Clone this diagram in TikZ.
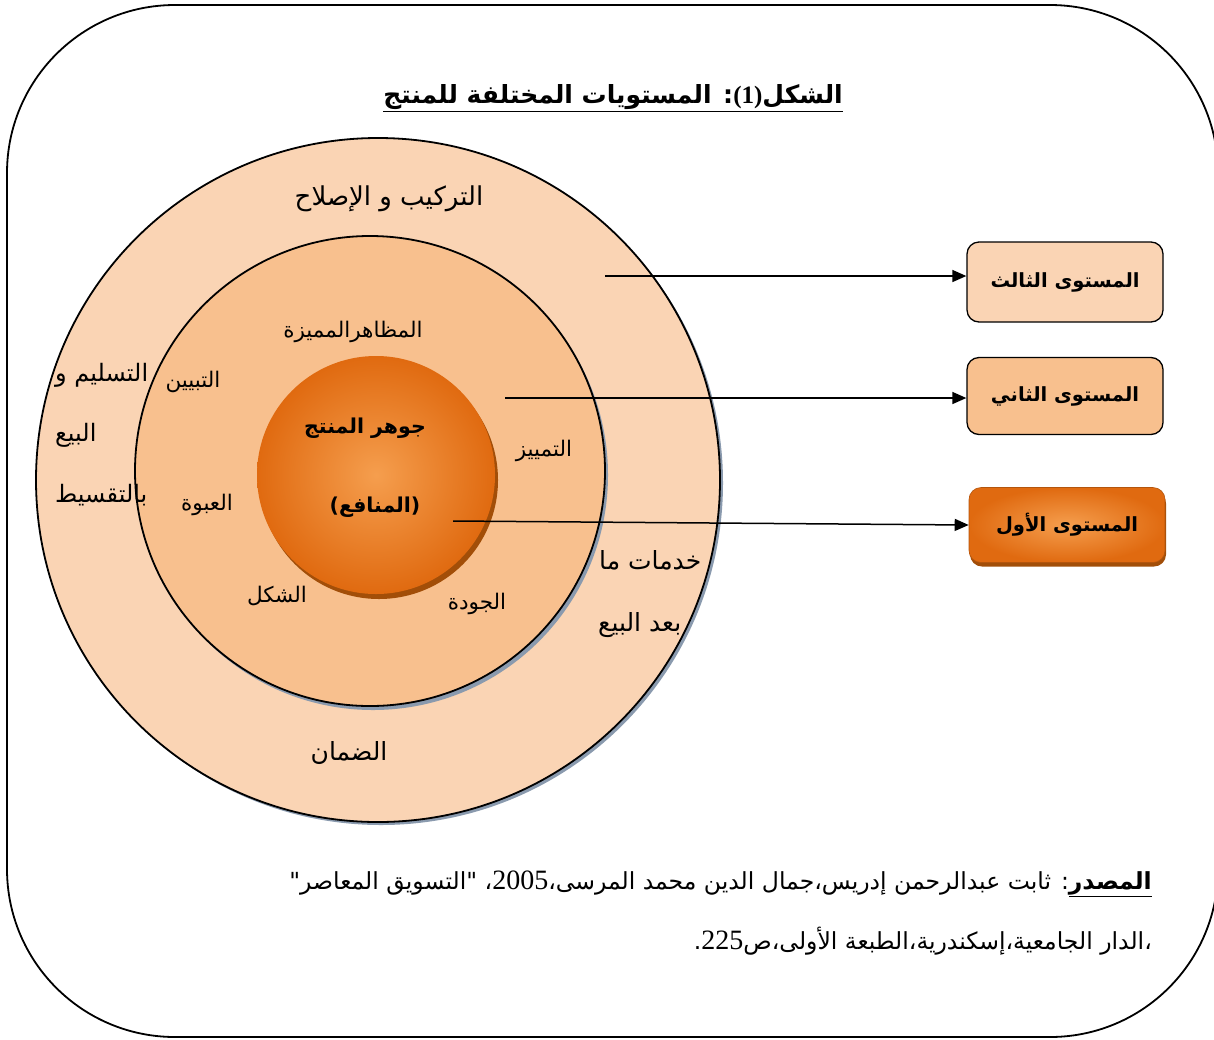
\documentclass[tikz,border=0pt]{standalone}
\usepackage{fontspec}
\usetikzlibrary{shadows,arrows.meta}
\TeXXeTstate=1
\newfontfamily\arabicfont[Script=Arabic]{DejaVu Sans}
\newfontfamily\latinserif{Liberation Serif}
\newcommand{\arline}[1]{\beginR #1\endR}
\newcommand{\lat}[1]{\beginL{\latinserif #1}\endL}
\definecolor{ringthree}{HTML}{FAD4B4}
\definecolor{ringtwo}{HTML}{F8C08E}
\definecolor{coreinner}{HTML}{F59E4E}
\definecolor{coreouter}{HTML}{E06A10}
\definecolor{shadowblue}{HTML}{8A9AAE}
\definecolor{coreshadow}{HTML}{A24E08}
\begin{document}
\begin{tikzpicture}[x=1pt,y=-1pt,
  outerlbl/.style={font=\arabicfont\fontsize{25}{30}\selectfont, inner sep=0pt},
  sidelbl/.style={font=\arabicfont\fontsize{24}{30}\selectfont, inner sep=0pt, anchor=west},
  innerlbl/.style={font=\arabicfont\fontsize{21.5}{26}\selectfont, inner sep=0pt},
  boldlbl/.style={font=\arabicfont\bfseries\fontsize{20.5}{24}\selectfont, inner sep=0pt},
  srclbl/.style={font=\arabicfont\fontsize{23.5}{28}\selectfont, inner sep=0pt, anchor=base east},
  levelbox/.style={rectangle, rounded corners=12pt, minimum width=196pt, draw=black, line width=1.3pt,
     font=\arabicfont\bfseries\fontsize{19.5}{23}\selectfont},
  ring/.style={circle, draw=black, line width=1.8pt, inner sep=0pt},
  conn/.style={line width=1.5pt, -{Triangle[length=14pt,width=12pt]}}]
\useasboundingbox (0,0) rectangle (1214,1039);
% frame
\draw[line width=1.8pt, rounded corners=168pt] (7,5) rectangle (1218,1037);
% title
\node[font=\arabicfont\bfseries\fontsize{25}{30}\selectfont, inner sep=0pt] (title) at (613,98)
  {\underline{\arline{الشكل\lat{(1)}: المستويات المختلفة للمنتج}}};
% circles
\node[ring, fill=ringthree, minimum size=684pt,
  drop shadow={shadow xshift=3pt, shadow yshift=-3pt, fill=shadowblue, opacity=1}] (outer) at (378,480) {};
\node[ring, fill=ringtwo, minimum size=470pt,
  drop shadow={shadow xshift=3pt, shadow yshift=-4pt, fill=shadowblue, opacity=1}] (middle) at (370,471) {};
\node[circle, inner sep=0pt, minimum size=238pt, shading=radial, inner color=coreinner, outer color=coreouter,
  drop shadow={shadow xshift=3pt, shadow yshift=-5pt, fill=coreshadow, opacity=1}] (core) at (376,475) {};
% outer ring labels
\node[outerlbl, font=\arabicfont\fontsize{26}{30}\selectfont] (repair) at (389,199) {\arline{التركيب و الإصلاح}};
\node[sidelbl] (deliv1) at (55,375) {\arline{التسليم و}};
\node[sidelbl] (deliv2) at (55,435) {\arline{البيع}};
\node[sidelbl] (deliv3) at (55,495) {\arline{بالتقسيط}};
\node[outerlbl, anchor=west] (after1) at (599,560) {\arline{خدمات ما}};
\node[outerlbl, anchor=west] (after2) at (598,625) {\arline{بعد البيع}};
\node[outerlbl] (warranty) at (349,753) {\arline{الضمان}};
% middle ring labels
\node[innerlbl] (features) at (353,332) {\arline{المظاهرالمميزة}};
\node[innerlbl] (styling) at (193,382) {\arline{التبيين}};
\node[innerlbl] (distinct) at (544,451) {\arline{التمييز}};
\node[innerlbl] (package) at (207,505) {\arline{العبوة}};
\node[innerlbl] (shape) at (277,596) {\arline{الشكل}};
\node[innerlbl] (quality) at (477,604) {\arline{الجودة}};
% core labels
\node[boldlbl] (core1) at (365,428) {\arline{جوهر المنتج}};
\node[boldlbl] (core2) at (375,507) {\arline{(المنافع)}};
% level boxes
\node[levelbox, fill=ringthree, minimum height=80pt] (third) at (1065,282) {\arline{المستوى الثالث}};
\node[levelbox, fill=ringtwo, minimum height=77pt] (second) at (1065,396) {\arline{المستوى الثاني}};
\node[levelbox, draw=coreouter!80!black, line width=0.6pt, minimum height=75pt, shading=radial,
  inner color=coreinner, outer color=coreouter,
  drop shadow={shadow xshift=1pt, shadow yshift=-4pt, fill=coreshadow, opacity=1}] (first) at (1067,525) {\arline{المستوى الأول}};
% connectors
\coordinate (a3) at (605,276);
\coordinate (a2) at (505,398);
\coordinate (a1) at (453,521);
\draw[conn] (a3) -- (a3 -| third.west);
\draw[conn] (a2) -- (a2 -| second.west);
\draw[conn] (a1) -- (first.west);
% source
\node[srclbl] (src1) at (1152,889)
  {\arline{\underline{\bfseries المصدر}: ثابت عبدالرحمن إدريس،جمال الدين محمد المرسى،{\fontsize{28}{30}\selectfont\lat{2005}}، "التسويق المعاصر"}};
\node[srclbl] (src2) at (1152,949)
  {\arline{،الدار الجامعية،إسكندرية،الطبعة الأولى،ص{\fontsize{28}{30}\selectfont\lat{225}}.}};
\end{tikzpicture}
\end{document}
